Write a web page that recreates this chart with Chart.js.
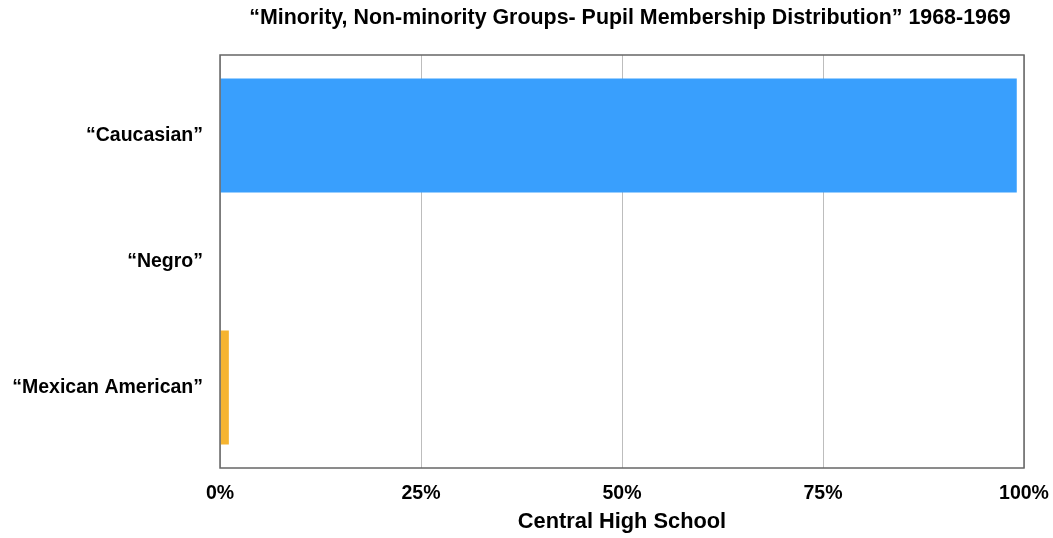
<!DOCTYPE html>
<html>
<head>
<meta charset="utf-8">
<script src="https://cdn.jsdelivr.net/npm/chart.js@4/dist/chart.umd.min.js"></script>
<style>
  html, body { margin: 0; padding: 0; background: #fff; }
  #wrap { width: 1053px; height: 538px; position: relative; }
</style>
</head>
<body>
<div id="wrap"><canvas id="c"></canvas></div>
<script>
const chartTitle = '\u201CMinority, Non-minority Groups- Pupil Membership Distribution\u201D 1968-1969';
const categories = ['\u201CCaucasian\u201D', '\u201CNegro\u201D', '\u201CMexican American\u201D'];
const values = [99.1, 0, 1.1];
const barColors = ['#399FFD', '#399FFD', '#F6B430'];
const xTicks = [0, 25, 50, 75, 100];
const xAxisTitle = 'Central High School';

const FONT = '"Liberation Sans", Arial, Helvetica, sans-serif';

const framePlugin = {
  id: 'frame',
  afterDraw(chart) {
    const {ctx, chartArea: a} = chart;
    ctx.save();
    ctx.strokeStyle = '#666666';
    ctx.lineWidth = 1.5;
    ctx.strokeRect(a.left, a.top, a.right - a.left, a.bottom - a.top);
    ctx.font = 'bold 21.4px ' + FONT;
    ctx.fillStyle = '#000';
    ctx.textAlign = 'center';
    ctx.textBaseline = 'middle';
    ctx.fillText(chartTitle, (a.left + a.right) / 2 + 8, 18);
    ctx.restore();
  }
};

new Chart(document.getElementById('c'), {
  type: 'bar',
  data: {
    datasets: [{
      data: categories.map((c, i) => ({x: values[i], y: i})),
      backgroundColor: barColors,
      borderWidth: 0,
      categoryPercentage: 1,
      barPercentage: 0.905
    }]
  },
  options: {
    indexAxis: 'y',
    responsive: true,
    maintainAspectRatio: false,
    animation: false,
    layout: { padding: { top: 55, right: 29, bottom: 0, left: 0 } },
    plugins: {
      legend: { display: false },
      title: { display: false },
      tooltip: { enabled: false }
    },
    scales: {
      x: {
        type: 'linear',
        min: 0,
        max: 100,
        afterBuildTicks(scale) { scale.ticks = xTicks.map(v => ({value: v})); },
        afterFit(scale) { scale.height = 70; scale.paddingRight = 0; scale.paddingLeft = 0; },
        ticks: {
          callback: v => v + '%',
          color: '#000',
          font: { family: FONT, size: 19.5, weight: 'bold' },
          padding: 14,
          maxRotation: 0
        },
        grid: { color: '#bdbdbd', lineWidth: 1, drawTicks: false },
        border: { display: false },
        title: {
          display: true,
          text: xAxisTitle,
          color: '#000',
          font: { family: FONT, size: 21.8, weight: 'bold' },
          padding: { top: 0, bottom: 3 }
        }
      },
      y: {
        type: 'linear',
        reverse: true,
        bounds: 'data',
        offset: false,
        min: -0.638,
        max: 2.638,
        afterBuildTicks(scale) { scale.ticks = categories.map((c, i) => ({value: i})); },
        afterFit(scale) { scale.width = 220; },
        ticks: {
          autoSkip: false,
          callback: (v, i) => categories[v] !== undefined ? categories[v] : '',
          color: '#000',
          font: { family: FONT, size: 19.5, weight: 'bold' },
          padding: 17
        },
        grid: { display: false, drawTicks: false, offset: false },
        border: { display: false }
      }
    }
  },
  plugins: [framePlugin]
});
</script>
</body>
</html>
